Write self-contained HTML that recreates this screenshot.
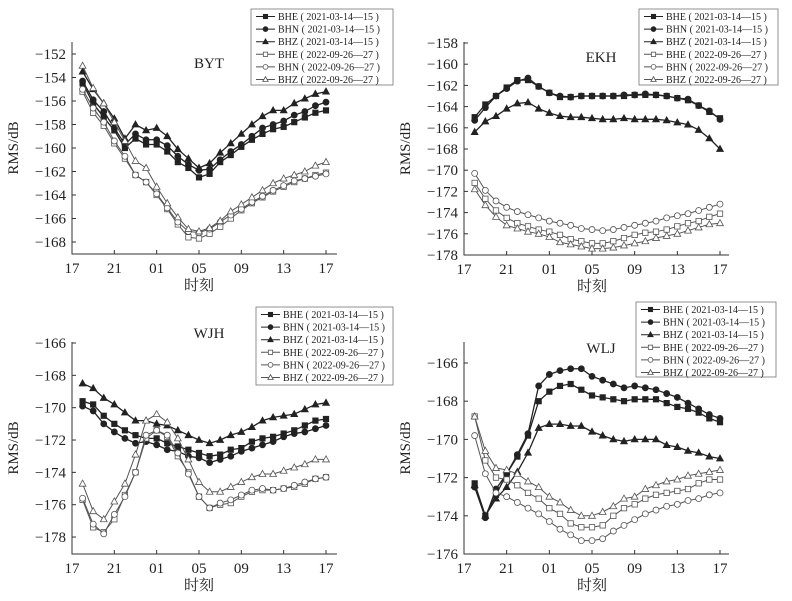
<!DOCTYPE html>
<html><head><meta charset="utf-8"><style>
body{margin:0;background:#fff;}
svg{display:block;font-family:"Liberation Serif","Noto Serif CJK SC",serif;}
</style></head><body>
<svg id="fig" width="792" height="601" viewBox="0 0 792 601" xmlns="http://www.w3.org/2000/svg"></svg>
<script>
const hours=[18,19,20,21,22,23,24,25,26,27,28,29,30,31,32,33,34,35,36,37,38,39,40,41];
const xTickHours=[17,21,25,29,33,37,41];
const xTickLabels=["17","21","01","05","09","13","17"];
const seriesNames=["BHE ( 2021-03-14—15 )","BHN ( 2021-03-14—15 )","BHZ ( 2021-03-14—15 )","BHE ( 2022-09-26—27 )","BHN ( 2022-09-26—27 )","BHZ ( 2022-09-26—27 )"];

const bytBHE21=[-154.5,-156.2,-157.4,-158.5,-160,-159.2,-159.7,-159.7,-160.3,-161.2,-161.7,-162.5,-162.2,-161.2,-160.6,-159.9,-159.3,-158.8,-158.4,-158.2,-157.8,-157.4,-157,-156.8];
const bytBHN21=[-154.3,-155.9,-156.9,-158.3,-159.7,-158.8,-159.3,-159.3,-159.8,-160.7,-161.4,-161.9,-161.8,-161,-160.3,-159.7,-159,-158.3,-158,-157.7,-157.2,-156.9,-156.4,-156.1];
const bytBHZ21=[-153.5,-155,-156.2,-157.5,-159.2,-158,-158.5,-158.3,-159,-160.1,-160.9,-161.7,-161.3,-160.4,-159.6,-158.8,-158,-157.3,-156.8,-156.8,-156.2,-155.8,-155.4,-155.2];
const bytBHE22=[-155.2,-157,-158.1,-159.6,-160.9,-162.3,-162.9,-164,-165.2,-166.5,-167.6,-167.7,-167.3,-166.7,-166,-165.3,-164.7,-164.2,-163.7,-163.3,-162.9,-162.6,-162.3,-162.1];
const bytBHN22=[-155,-156.6,-157.8,-159.4,-160.7,-162.3,-162.9,-163.9,-165.1,-166.3,-167.1,-167.2,-166.9,-166.3,-165.7,-165.2,-164.6,-164.1,-163.6,-163.2,-162.8,-162.6,-162.4,-162.2];
const bytBHZ22=[-153,-154.9,-156.2,-157.8,-159.4,-161.1,-161.7,-163.3,-164.7,-165.9,-166.9,-167.1,-166.8,-166.2,-165.4,-164.8,-164.2,-163.6,-163,-162.6,-162.3,-162,-161.5,-161.2];

const ekhBHE21=[-165,-163.8,-163,-162.2,-161.5,-161.5,-162.1,-162.7,-163.1,-163.1,-163,-163,-163,-163,-163,-162.9,-162.9,-162.9,-163,-163.2,-163.4,-163.9,-164.5,-165.1];
const ekhBHN21=[-165.3,-164.1,-163,-162.3,-161.6,-161.3,-162.1,-162.7,-163,-163.1,-163,-163,-163,-163,-162.9,-162.9,-162.8,-162.9,-163,-163.2,-163.3,-163.9,-164.4,-165.2];
const ekhBHZ21=[-166.4,-165.4,-164.9,-164.2,-163.7,-163.6,-164.2,-164.6,-164.9,-165,-165,-165.1,-165.2,-165.2,-165.1,-165.2,-165.2,-165.2,-165.3,-165.5,-165.7,-166.2,-167,-168];
const ekhBHE22=[-171.2,-172.7,-173.8,-174.5,-175,-175.3,-175.6,-175.8,-176.1,-176.5,-176.7,-176.9,-176.9,-176.7,-176.4,-176.1,-175.9,-175.8,-175.6,-175.3,-175,-174.8,-174.4,-174.1];
const ekhBHN22=[-170.3,-171.9,-172.9,-173.5,-173.9,-174.2,-174.5,-174.8,-175,-175.2,-175.5,-175.6,-175.7,-175.6,-175.4,-175.2,-175,-174.8,-174.5,-174.3,-174.1,-173.8,-173.5,-173.2];
const ekhBHZ22=[-171.8,-173.3,-174.4,-175.2,-175.5,-175.8,-176,-176.3,-176.8,-177,-177.2,-177.4,-177.4,-177.3,-177.1,-176.9,-176.7,-176.4,-176.2,-176,-175.7,-175.4,-175.1,-175];

const wjhBHE21=[-169.6,-169.8,-170.5,-171,-171.4,-171.7,-171.9,-171.9,-172.2,-172.4,-172.6,-172.8,-173,-172.9,-172.6,-172.5,-172.1,-171.9,-171.8,-171.6,-171.4,-171.1,-170.8,-170.7];
const wjhBHN21=[-169.9,-170.2,-171,-171.5,-171.9,-172.2,-172.1,-172.3,-172.6,-172.7,-173,-173.1,-173.4,-173.2,-173,-172.7,-172.5,-172.3,-172.1,-171.8,-171.6,-171.5,-171.3,-171.1];
const wjhBHZ21=[-168.5,-168.8,-169.4,-169.8,-170.3,-170.8,-170.8,-171,-171.1,-171.4,-171.7,-172,-172.2,-172,-171.7,-171.5,-171.2,-170.8,-170.6,-170.5,-170.4,-170.1,-169.8,-169.7];
const wjhBHE22=[-175.7,-177.4,-177.7,-176.9,-175.4,-174,-171.9,-171.4,-171.8,-173,-174,-175.5,-176.2,-176,-175.9,-175.5,-175.2,-175.1,-175.1,-175,-174.9,-174.7,-174.4,-174.3];
const wjhBHN22=[-175.6,-177.2,-177.8,-176.6,-175.5,-174,-171.7,-171.4,-171.7,-172.8,-174.1,-175.5,-176.2,-175.9,-175.7,-175.4,-175.1,-175,-175.1,-175,-174.8,-174.6,-174.4,-174.3];
const wjhBHZ22=[-174.7,-176.4,-176.9,-175.8,-174.7,-172.9,-170.8,-170.4,-170.9,-171.9,-173.2,-174.6,-175.2,-175.2,-174.9,-174.6,-174.3,-174.1,-174.1,-173.9,-173.7,-173.5,-173.2,-173.2];

const wljBHE21=[-172.3,-174,-172.9,-171.8,-170.9,-169.8,-168,-167.5,-167.2,-167.1,-167.4,-167.7,-167.8,-167.9,-168,-167.9,-167.9,-167.9,-168.1,-168.3,-168.4,-168.6,-168.9,-169.1];
const wljBHN21=[-172.5,-174.1,-172.6,-171.8,-170.8,-169.7,-167.2,-166.6,-166.4,-166.3,-166.3,-166.7,-166.9,-167.1,-167.3,-167.2,-167.3,-167.4,-167.6,-167.8,-168.1,-168.4,-168.7,-168.9];
const wljBHZ21=[-172.4,-174,-173.1,-172.5,-171.7,-170.7,-169.4,-169.2,-169.2,-169.3,-169.3,-169.6,-169.8,-170,-170.1,-170,-170,-170,-170.3,-170.4,-170.6,-170.7,-170.9,-171];
const wljBHE22=[-168.8,-171.1,-172,-172.1,-172.4,-172.8,-173.1,-173.6,-173.9,-174.4,-174.6,-174.6,-174.5,-174,-173.6,-173.4,-173.1,-172.9,-172.8,-172.7,-172.6,-172.3,-172.1,-172.1];
const wljBHN22=[-169.8,-171.8,-172.8,-173,-173.3,-173.6,-173.9,-174.3,-174.7,-175,-175.3,-175.3,-175.2,-174.8,-174.5,-174.2,-173.9,-173.7,-173.5,-173.4,-173.2,-173.1,-172.9,-172.8];
const wljBHZ22=[-168.8,-170.6,-171.5,-171.6,-171.8,-172.2,-172.5,-173,-173.3,-173.7,-174,-174,-173.8,-173.5,-173.1,-173,-172.6,-172.4,-172.2,-172.1,-171.9,-171.8,-171.7,-171.6];

const bytTicks=[-152,-154,-156,-158,-160,-162,-164,-166,-168];
const ekhTicks=[-158,-160,-162,-164,-166,-168,-170,-172,-174,-176,-178];
const wjhTicks=[-166,-168,-170,-172,-174,-176,-178];
const wljTicks=[-166,-168,-170,-172,-174,-176];

const NS="http://www.w3.org/2000/svg";
const svg=document.getElementById('fig');
function mk(tag,attrs,parent){const e=document.createElementNS(NS,tag);for(const k in attrs)e.setAttribute(k,attrs[k]);(parent||svg).appendChild(e);return e;}

const styles=[
 {m:'sq',fill:'#222',stroke:'#222'},{m:'ci',fill:'#222',stroke:'#222'},{m:'tr',fill:'#222',stroke:'#222'},
 {m:'sq',fill:'#fff',stroke:'#555'},{m:'ci',fill:'#fff',stroke:'#555'},{m:'tr',fill:'#fff',stroke:'#555'}];

function marker(g,st,x,y,s){
  s=s||1;
  let e;
  if(st.m==='sq') e=mk('rect',{x:x-2.7*s,y:y-2.7*s,width:5.4*s,height:5.4*s},g);
  else if(st.m==='ci') e=mk('circle',{cx:x,cy:y,r:3*s},g);
  else e=mk('polygon',{points:`${x},${y-3.6*s} ${x+3.4*s},${y+2.5*s} ${x-3.4*s},${y+2.5*s}`},g);
  e.setAttribute('fill',st.fill);e.setAttribute('stroke',st.stroke);e.setAttribute('stroke-width','0.8');
  
  
}

function panel(cfg){
  const g=mk('g',{});
  
  
  const xs=h=>cfg.x0+(h-17)*(cfg.x1-cfg.x0)/24;
  const ys=v=>cfg.yRef+(cfg.vRef-v)*cfg.ppu;
  const ax=mk('path',{d:`M${cfg.x0},${cfg.top}V${cfg.bot}H${cfg.xEnd}`,fill:'none',stroke:'#333','stroke-width':1},g);
  
  
  cfg.ticks.forEach(t=>{
    const y=ys(t);
    mk('line',{x1:cfg.x0,x2:cfg.x0+4,y1:y,y2:y,stroke:'#333'},g);
    const tx=mk('text',{x:cfg.x0-6,y:y+5,'text-anchor':'end','font-size':15,fill:'#222'},g);
    tx.textContent='−'+Math.abs(t);
    
    
  });
  xTickHours.forEach((h,i)=>{
    const x=xs(h);
    mk('line',{x1:x,x2:x,y1:cfg.bot,y2:cfg.bot-4,stroke:'#333'},g);
    const tx=mk('text',{x:x,y:cfg.bot+19,'text-anchor':'middle','font-size':15,fill:'#222'},g);
    tx.textContent=xTickLabels[i];
    
    
  });
  const yl=mk('text',{transform:`translate(${cfg.x0-54},${(cfg.top+cfg.bot)/2}) rotate(-90)`,'text-anchor':'middle','font-size':15,fill:'#222'},g);
  yl.textContent='RMS/dB';
  
  
  const xl=mk('text',{x:(cfg.x0+cfg.x1)/2,y:cfg.bot+36,'text-anchor':'middle','font-size':15,fill:'#222','font-family':'"Noto Serif CJK SC",serif'},g);
  xl.textContent='时刻';
  
  
  const tt=mk('text',{x:cfg.tx,y:cfg.ty,'text-anchor':'middle','font-size':15,fill:'#222'},g);
  tt.textContent=cfg.name.toUpperCase();
  
  
  cfg.series.forEach((arr,si)=>{
    const st=styles[si];
    const sg=mk('g',{},g);
    
    
    const pts=arr.map((v,i)=>xs(hours[i])+','+ys(v)).join(' ');
    mk('polyline',{points:pts,fill:'none',stroke:st.stroke,'stroke-width':si<3?1.3:1},sg);
    arr.forEach((v,i)=>marker(sg,st,xs(hours[i]),ys(v)));
  });
  const lg=mk('g',{},g);
  
  
  const L=cfg.leg;
  mk('rect',{x:L.x,y:L.y,width:L.w,height:L.h,fill:'#fff',stroke:'#777','stroke-width':0.8},lg);
  seriesNames.forEach((n,i)=>{
    const ry=L.y+7.5+i*12.6;
    const eg=mk('g',{},lg);
    
    
    mk('line',{x1:L.x+5,x2:L.x+24,y1:ry,y2:ry,stroke:styles[i].stroke,'stroke-width':1},eg);
    marker(eg,styles[i],L.x+14.5,ry,0.8);
    const t=mk('text',{x:L.x+27,y:ry+3.5,'font-size':10,fill:'#222'},eg);
    t.textContent=n;
  });
}

panel({name:'byt',x0:72,x1:326,xEnd:337,top:42,bot:254,yRef:54,vRef:-152,ppu:11.75,ticks:bytTicks,tx:209,ty:68,
  series:[bytBHE21,bytBHN21,bytBHZ21,bytBHE22,bytBHN22,bytBHZ22],leg:{x:251,y:9,w:142,h:76}});
panel({name:'ekh',x0:464,x1:720,xEnd:729,top:42,bot:255,yRef:43,vRef:-158,ppu:10.6,ticks:ekhTicks,tx:601,ty:62,
  series:[ekhBHE21,ekhBHN21,ekhBHZ21,ekhBHE22,ekhBHN22,ekhBHZ22],leg:{x:639,y:9,w:139,h:76}});
panel({name:'wjh',x0:72,x1:326,xEnd:337,top:342,bot:554,yRef:343,vRef:-166,ppu:16.17,ticks:wjhTicks,tx:209,ty:338,
  series:[wjhBHE21,wjhBHN21,wjhBHZ21,wjhBHE22,wjhBHN22,wjhBHZ22],leg:{x:256,y:307,w:137,h:78}});
panel({name:'wlj',x0:464,x1:720,xEnd:729,top:342,bot:554,yRef:363,vRef:-166,ppu:19.1,ticks:wljTicks,tx:601,ty:353,
  series:[wljBHE21,wljBHN21,wljBHZ21,wljBHE22,wljBHN22,wljBHZ22],leg:{x:636,y:302,w:140,h:75}});
</script>
</body></html>
